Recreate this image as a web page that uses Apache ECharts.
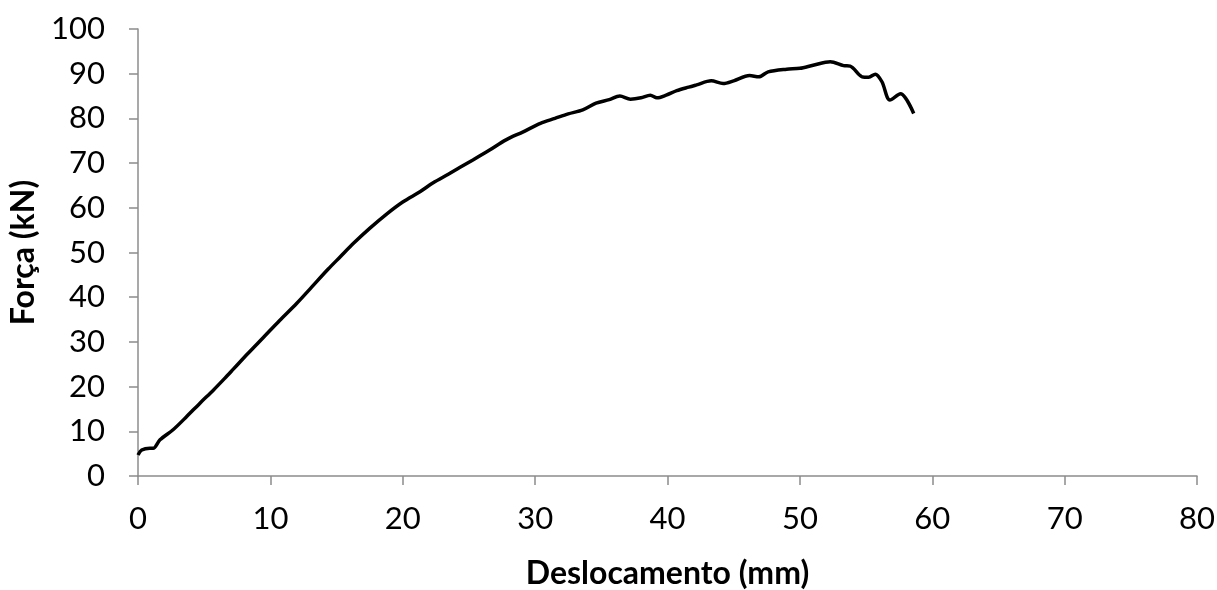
<!DOCTYPE html>
<html>
<head>
<meta charset="utf-8">
<script src="https://cdn.jsdelivr.net/npm/echarts@6/dist/echarts.min.js"></script>
<style>html,body{margin:0;padding:0;background:#fff}#c{width:1217px;height:590px}</style>
</head>
<body>
<div id="c"></div>
<script>
const disp = [0, 0.28, 0.9, 1.15, 1.66, 2.67, 3.68, 4.68, 5.69, 6.57, 7.2, 8.3, 9.47, 10.7, 11.98, 13.1, 14.37, 15.3, 16.26, 17.5, 18.78, 20.0, 21.3, 22.3, 23.44, 24.3, 25.3, 26.5, 27.8, 29.1, 30.4, 31.5, 32.5, 33.6, 34.6, 35.6, 36.4, 37.2, 38.0, 38.7, 39.2, 39.9, 40.7, 41.6, 42.2, 43.3, 44.2, 45.0, 46.2, 46.9, 47.6, 49.0, 50.0, 51.0, 52.3, 53.3, 53.8, 54.7, 55.2, 55.7, 56.2, 56.8, 57.6, 58.6];
const force = [4.7, 5.8, 6.2, 6.2, 8.1, 10.4, 13.3, 16.3, 19.2, 21.9, 23.9, 27.4, 31.0, 34.8, 38.6, 42.2, 46.3, 49.1, 52.0, 55.4, 58.6, 61.3, 63.6, 65.6, 67.5, 69.0, 70.7, 72.8, 75.2, 77.0, 78.9, 80.0, 81.0, 81.9, 83.4, 84.2, 85.0, 84.3, 84.6, 85.2, 84.6, 85.2, 86.2, 87.0, 87.5, 88.4, 87.8, 88.4, 89.6, 89.3, 90.4, 91.0, 91.2, 91.9, 92.7, 91.8, 91.7, 89.3, 89.2, 89.9, 88.2, 84.1, 85.5, 81.1];
const xTicks = [0, 10, 20, 30, 40, 50, 60, 70, 80];
const yTicks = [0, 10, 20, 30, 40, 50, 60, 70, 80, 90, 100];

const chart = echarts.init(document.getElementById('c'));
const font = 'Lato, "Open Sans", sans-serif';
chart.setOption({
  animation: false,
  grid: {left: 138, right: 20, top: 29, bottom: 114, containLabel: false, outerBoundsMode: 'none'},
  xAxis: {
    type: 'value', min: xTicks[0], max: xTicks[xTicks.length-1], interval: 10,
    name: 'Deslocamento (mm)', nameLocation: 'middle', nameGap: 82,
    nameTextStyle: {fontFamily: font, fontSize: 32, fontWeight: 'bold', color: '#000'},
    axisLine: {show: true, lineStyle: {color: '#8c8c8c', width: 1.5}},
    axisTick: {show: true, length: 9, lineStyle: {color: '#8c8c8c', width: 1.5}},
    axisLabel: {margin: 27, fontFamily: font, fontSize: 31, color: '#000'},
    splitLine: {show: false}
  },
  yAxis: {
    type: 'value', min: yTicks[0], max: yTicks[yTicks.length-1], interval: 10,
    name: 'Força (kN)', nameLocation: 'middle', nameGap: 94,
    nameTextStyle: {fontFamily: font, fontSize: 32, fontWeight: 'bold', color: '#000'},
    axisLine: {show: true, lineStyle: {color: '#8c8c8c', width: 1.5}},
    axisTick: {show: true, length: 9, lineStyle: {color: '#8c8c8c', width: 1.5}},
    axisLabel: {margin: 33, fontFamily: font, fontSize: 31, color: '#000'},
    splitLine: {show: false}
  },
  series: [{
    type: 'line', showSymbol: false, smooth: 0.3,
    data: disp.map((d, i) => [d, force[i]]),
    lineStyle: {color: '#000', width: 3.5}
  }]
});
</script>
</body>
</html>
